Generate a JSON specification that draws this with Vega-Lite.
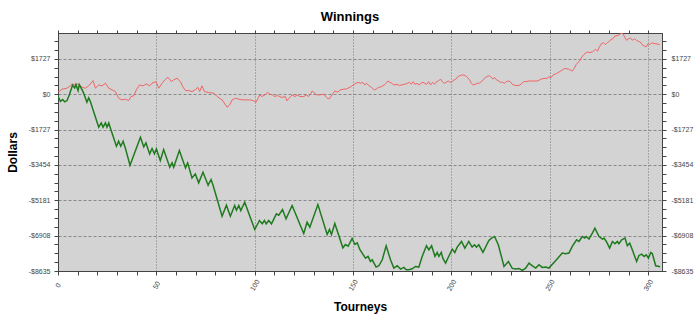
{
  "$schema": "https://vega.github.io/schema/vega-lite/v6.json",
  "width": 604,
  "height": 238,
  "autosize": {"type": "none"},
  "padding": {"left": 58, "top": 33, "right": 38, "bottom": 50},
  "background": "white",
  "title": {"text": "Winnings", "fontSize": 13, "font": "Liberation Sans", "fontWeight": "bold", "color": "black", "offset": 6, "dx": -10},
  "config": {
    "view": {"fill": "#d3d3d3", "stroke": "#444"},
    "axis": {"labelFont": "Liberation Sans", "labelFontSize": 7, "labelColor": "#444", "domainColor": "#444", "tickColor": "#444", "titleFont": "Liberation Sans", "titleFontSize": 12, "titleFontWeight": "bold", "titleColor": "black"}
  },
  "datasets": {
    "red": [
      {"t":0,"v":98},{"t":2.0,"v":244},{"t":4.5,"v":293},{"t":6.3,"v":407},{"t":7.1,"v":504},{"t":8.8,"v":456},{"t":10.5,"v":504},{"t":12.2,"v":342},{"t":13.9,"v":293},{"t":15.6,"v":407},{"t":17.8,"v":667},{"t":19.0,"v":293},{"t":20.7,"v":456},{"t":22.4,"v":407},{"t":24.1,"v":537},{"t":25.8,"v":293},{"t":27.5,"v":212},{"t":29.2,"v":130},{"t":30.8,"v":-195},{"t":32.5,"v":-276},{"t":34.2,"v":-244},{"t":35.9,"v":-309},{"t":37.1,"v":-114},{"t":38.5,"v":-81},{"t":39.8,"v":212},{"t":41.5,"v":456},{"t":43.2,"v":407},{"t":44.9,"v":504},{"t":46.6,"v":407},{"t":47.8,"v":537},{"t":49.8,"v":618},{"t":51.2,"v":293},{"t":52.9,"v":537},{"t":54.3,"v":700},{"t":55.9,"v":830},{"t":57.6,"v":618},{"t":58.8,"v":700},{"t":60.5,"v":781},{"t":62.2,"v":618},{"t":63.6,"v":342},{"t":64.8,"v":179},{"t":66.4,"v":179},{"t":68.1,"v":130},{"t":69.8,"v":212},{"t":71.0,"v":342},{"t":72.0,"v":130},{"t":73.2,"v":407},{"t":74.4,"v":130},{"t":76.6,"v":81},{"t":79.2,"v":49},{"t":80.9,"v":-114},{"t":83.4,"v":-276},{"t":85.9,"v":-634},{"t":87.3,"v":-520},{"t":88.5,"v":-276},{"t":90.2,"v":-195},{"t":91.9,"v":-244},{"t":93.6,"v":-276},{"t":96.2,"v":-276},{"t":97.8,"v":-276},
      {"t":99.3,"v":-323},{"t":100.7,"v":-387},{"t":101.7,"v":-194},{"t":102.6,"v":-32},{"t":103.6,"v":-113},{"t":105.2,"v":-32},{"t":106.6,"v":97},{"t":107.6,"v":0},{"t":109.0,"v":-32},{"t":110.1,"v":-113},{"t":111.5,"v":-65},{"t":112.5,"v":-113},{"t":113.9,"v":-161},{"t":115.5,"v":-113},{"t":116.4,"v":-323},{"t":117.4,"v":-194},{"t":119.0,"v":-32},{"t":120.4,"v":-113},{"t":121.8,"v":-32},{"t":122.9,"v":-113},{"t":124.9,"v":-113},{"t":126.3,"v":-32},{"t":127.3,"v":-113},{"t":128.3,"v":0},{"t":129.3,"v":161},{"t":130.3,"v":48},{"t":131.6,"v":-32},{"t":133.2,"v":-32},{"t":134.8,"v":0},{"t":136.2,"v":-113},{"t":137.2,"v":-226},{"t":138.2,"v":-194},{"t":139.5,"v":0},{"t":140.7,"v":161},{"t":142.1,"v":97},{"t":143.5,"v":210},{"t":145.0,"v":242},{"t":146.6,"v":258},{"t":148.0,"v":323},{"t":149.0,"v":371},{"t":150.0,"v":452},{"t":151.4,"v":533},{"t":152.5,"v":581},{"t":153.9,"v":533},{"t":154.9,"v":581},{"t":155.9,"v":452},{"t":156.9,"v":533},{"t":157.9,"v":420},{"t":158.9,"v":371},{"t":159.8,"v":291},{"t":160.8,"v":210},{"t":161.8,"v":258},{"t":162.8,"v":323},{"t":164.4,"v":371},{"t":165.8,"v":452},{"t":166.7,"v":533},{"t":167.7,"v":646},{"t":168.7,"v":581},{"t":169.7,"v":533},{"t":170.7,"v":452},{"t":172.3,"v":484},{"t":173.6,"v":420},{"t":174.6,"v":452},{"t":176.2,"v":484},{"t":177.6,"v":533},{"t":178.6,"v":581},{"t":179.6,"v":484},{"t":180.5,"v":613},{"t":181.5,"v":484},{"t":182.5,"v":533},{"t":183.5,"v":452},{"t":184.5,"v":533},{"t":185.5,"v":581},{"t":186.5,"v":533},{"t":187.4,"v":484},{"t":188.4,"v":613},{"t":189.4,"v":452},{"t":190.4,"v":581},{"t":191.4,"v":484},{"t":192.4,"v":613},{"t":193.4,"v":646},{"t":194.4,"v":742},{"t":195.3,"v":613},{"t":196.3,"v":533},{"t":197.3,"v":581},{"t":198.3,"v":646},{"t":199.3,"v":581},{"t":200.3,"v":613},{"t":201.3,"v":694},{"t":202.3,"v":742},{"t":203.2,"v":855},{"t":204.2,"v":904},{"t":205.2,"v":936},{"t":206.2,"v":936},{"t":207.2,"v":904},{"t":208.2,"v":807},{"t":209.2,"v":694},{"t":210.1,"v":533},{"t":211.1,"v":452},{"t":212.1,"v":484},{"t":213.1,"v":533},{"t":214.1,"v":533},{"t":215.1,"v":613},{"t":216.1,"v":694},{"t":217.0,"v":807},{"t":218.0,"v":855},{"t":219.0,"v":904},{"t":220.0,"v":855},{"t":221.0,"v":742},{"t":222.0,"v":807},{"t":223.0,"v":694},{"t":224.0,"v":646},{"t":225.0,"v":581},{"t":225.9,"v":581},{"t":226.9,"v":533},{"t":227.9,"v":613},{"t":228.9,"v":646},{"t":229.9,"v":613},{"t":230.9,"v":484},{"t":231.8,"v":452},{"t":232.8,"v":420},{"t":233.8,"v":420},{"t":234.8,"v":452},{"t":235.8,"v":533},{"t":236.8,"v":613},{"t":237.8,"v":613},{"t":239.7,"v":646},{"t":241.7,"v":646},{"t":243.7,"v":646},{"t":244.7,"v":694},{"t":245.6,"v":742},{"t":247.6,"v":775},{"t":248.6,"v":775},{"t":249.6,"v":855},{"t":250.6,"v":807},{"t":251.6,"v":936},{"t":253.5,"v":1017},{"t":255.5,"v":1130},{"t":257.5,"v":1259},{"t":259.4,"v":1227},{"t":260.4,"v":1178},{"t":261.4,"v":1130},{"t":262.4,"v":1259},{"t":263.4,"v":1453},{"t":265.4,"v":1662},{"t":266.3,"v":1824},{"t":267.3,"v":1937},{"t":268.9,"v":2066},{"t":270.3,"v":2034},{"t":271.7,"v":2066},{"t":273.3,"v":2195},{"t":274.2,"v":2098},{"t":275.2,"v":2308},{"t":276.2,"v":2469},{"t":277.2,"v":2518},{"t":278.2,"v":2421},{"t":279.2,"v":2518},{"t":280.2,"v":2582},{"t":281.1,"v":2679},{"t":282.1,"v":2712},{"t":283.1,"v":2841},{"t":284.7,"v":2873},{"t":286.1,"v":2970},{"t":287.1,"v":2970},{"t":288.0,"v":2792},{"t":289.0,"v":2631},{"t":290.0,"v":2712},{"t":291.0,"v":2744},{"t":292.0,"v":2631},{"t":293.0,"v":2712},{"t":294.0,"v":2631},{"t":295.0,"v":2582},{"t":296.0,"v":2550},{"t":296.9,"v":2421},{"t":297.9,"v":2356},{"t":298.9,"v":2308},{"t":299.9,"v":2469},{"t":300.9,"v":2421},{"t":301.9,"v":2518},{"t":302.9,"v":2469},{"t":303.9,"v":2469},{"t":305.8,"v":2421}
    ],
    "green": [
      {"t":0,"v":-100},{"t":1.2,"v":-344},{"t":2.4,"v":-263},{"t":3.4,"v":-376},{"t":4.6,"v":-311},{"t":5.8,"v":-19},{"t":7.4,"v":437},{"t":8.5,"v":307},{"t":9.1,"v":470},{"t":10.2,"v":177},{"t":10.8,"v":470},{"t":12.2,"v":226},{"t":13.0,"v":63},{"t":14.7,"v":-393},{"t":15.6,"v":-181},{"t":16.4,"v":-344},{"t":20.7,"v":-1613},{"t":22.0,"v":-1401},{"t":22.9,"v":-1613},{"t":24.1,"v":-1401},{"t":24.9,"v":-1613},{"t":25.8,"v":-1401},{"t":26.6,"v":-1646},{"t":29.7,"v":-2540},{"t":30.8,"v":-2296},{"t":31.9,"v":-2540},{"t":33.1,"v":-2296},{"t":34.2,"v":-2622},{"t":36.6,"v":-3468},{"t":41.9,"v":-2101},{"t":43.6,"v":-2573},{"t":44.7,"v":-2378},{"t":46.6,"v":-2915},{"t":47.8,"v":-2654},{"t":49.0,"v":-2915},{"t":50.0,"v":-2671},{"t":52.0,"v":-3240},{"t":53.7,"v":-2703},{"t":56.8,"v":-3565},{"t":58.0,"v":-3354},{"t":58.8,"v":-3565},{"t":61.7,"v":-2752},{"t":64.8,"v":-3598},{"t":65.9,"v":-3354},{"t":68.1,"v":-4086},{"t":69.8,"v":-3891},{"t":71.5,"v":-4330},{"t":73.7,"v":-3809},{"t":76.3,"v":-4444},{"t":77.8,"v":-4167},{"t":78.7,"v":-4411},{"t":83.4,"v":-5957},{"t":85.6,"v":-5420},{"t":87.6,"v":-5957},{"t":89.8,"v":-5436},{"t":90.7,"v":-5664},{"t":91.9,"v":-5436},{"t":92.9,"v":-5680},{"t":94.9,"v":-5274},{"t":100.0,"v":-6608},{"t":102.4,"v":-6169},{"t":103.8,"v":-6331},{"t":104.9,"v":-6169},{"t":105.8,"v":-6331},{"t":107.1,"v":-6169},{"t":108.5,"v":-6331},{"t":111.0,"v":-5843},{"t":112.2,"v":-5908},{"t":114.1,"v":-5632},{"t":115.9,"v":-6087},{"t":119.0,"v":-5436},{"t":124.9,"v":-6803},{"t":126.6,"v":-6250},{"t":128.0,"v":-6494},{"t":132.1,"v":-5388},{"t":136.8,"v":-6852},{"t":138.0,"v":-6608},{"t":139.0,"v":-6852},{"t":140.7,"v":-6315},{"t":144.8,"v":-7503},{"t":146.1,"v":-7340},{"t":147.5,"v":-7421},{"t":149.5,"v":-7047},{"t":150.9,"v":-7340},{"t":152.1,"v":-7259},{"t":153.4,"v":-7584},
      {"t":154.6,"v":-7761},{"t":156.3,"v":-8005},{"t":157.6,"v":-7924},{"t":158.8,"v":-8168},{"t":159.7,"v":-8087},{"t":161.7,"v":-8445},{"t":163.1,"v":-8380},{"t":164.8,"v":-8087},{"t":166.8,"v":-7403},{"t":169.0,"v":-8087},{"t":170.7,"v":-8493},{"t":172.4,"v":-8380},{"t":174.1,"v":-8542},{"t":175.8,"v":-8461},{"t":177.0,"v":-8575},{"t":178.3,"v":-8575},{"t":180.0,"v":-8526},{"t":181.7,"v":-8412},{"t":183.4,"v":-8445},{"t":185.1,"v":-7924},{"t":187.3,"v":-7403},{"t":188.5,"v":-7599},{"t":189.9,"v":-7403},{"t":191.6,"v":-7924},{"t":192.7,"v":-7729},{"t":193.6,"v":-7924},{"t":194.8,"v":-7729},{"t":195.6,"v":-8005},{"t":197.0,"v":-8249},{"t":199.0,"v":-7843},{"t":200.4,"v":-7566},{"t":201.7,"v":-7729},{"t":202.9,"v":-7468},{"t":205.1,"v":-7192},{"t":206.8,"v":-7517},{"t":208.8,"v":-7192},{"t":210.5,"v":-7468},{"t":211.7,"v":-7355},{"t":212.7,"v":-7468},{"t":213.9,"v":-7355},{"t":216.0,"v":-7729},{"t":219.0,"v":-7143},{"t":220.4,"v":-7029},{"t":221.9,"v":-6948},{"t":223.8,"v":-7355},{"t":226.7,"v":-8412},{"t":228.9,"v":-8168},{"t":230.9,"v":-8510},{"t":232.6,"v":-8542},{"t":234.3,"v":-8510},{"t":236.0,"v":-8607},{"t":237.7,"v":-8493},{"t":239.4,"v":-8249},{"t":241.1,"v":-8380},{"t":242.8,"v":-8493},{"t":244.5,"v":-8331},{"t":246.1,"v":-8461},{"t":247.8,"v":-8445},{"t":249.5,"v":-8493},{"t":252.9,"v":-8136},{"t":256.3,"v":-7761},{"t":258.0,"v":-7794},{"t":259.7,"v":-7761},{"t":261.4,"v":-7436},{"t":263.6,"v":-7111},{"t":264.8,"v":-7192},{"t":266.5,"v":-6948},{"t":267.7,"v":-7029},{"t":268.5,"v":-6948},{"t":269.9,"v":-7078},{"t":271.6,"v":-6785},{"t":272.9,"v":-6541},{"t":275.0,"v":-6948},{"t":276.7,"v":-7078},{"t":277.5,"v":-7029},{"t":278.7,"v":-7192},{"t":280.4,"v":-7517},{"t":281.8,"v":-7192},{"t":283.1,"v":-7306},{"t":284.3,"v":-7192},{"t":285.1,"v":-7306},{"t":286.5,"v":-7111},{"t":288.2,"v":-7029},{"t":289.4,"v":-7403},{"t":290.6,"v":-7273},{"t":291.9,"v":-7599},{"t":294.1,"v":-8168},{"t":295.3,"v":-7875},{"t":296.7,"v":-7810},{"t":297.9,"v":-7924},{"t":299.0,"v":-7843},{"t":300.1,"v":-8005},{"t":301.3,"v":-7729},{"t":302.1,"v":-7794},{"t":303.8,"v":-8380},{"t":305.5,"v":-8412},{"t":306.0,"v":-8445}
    ]
  },
  "layer": [
    {
      "data": {"name": "red"},
      "mark": {"type": "line", "color": "#f06565", "strokeWidth": 1, "clip": true},
      "encoding": {
        "x": {"field": "t", "type": "quantitative", "scale": {"domain": [0, 307], "nice": false, "zero": false},
          "axis": {"orient": "bottom", "title": "Tourneys", "values": [0,10,20,30,40,50,60,70,80,90,100,110,120,130,140,150,160,170,180,190,200,210,220,230,240,250,260,270,280,290,300],
            "labelExpr": "datum.value % 50 === 0 ? datum.label : ''", "labelAngle": -60, "labelAlign": "center", "labelBaseline": "middle", "labelPadding": 10, "labelFlush": false, "labelOverlap": false,
            "tickSize": 4, "grid": true, "gridColor": "#777", "gridDash": [1, 2], "gridOpacity": {"condition": {"test": "datum.value % 50 === 0", "value": 1}, "value": 0}, "titlePadding": 10}},
        "y": {"field": "v", "type": "quantitative", "scale": {"domain": [-8635, 2990], "nice": false, "zero": false},
          "axis": {"orient": "left", "title": "Dollars", "values": [-8635,-8203.25,-7771.5,-7339.75,-6908,-6476.25,-6044.5,-5612.75,-5181,-4749.25,-4317.5,-3885.75,-3454,-3022.25,-2590.5,-2158.75,-1727,-1295.25,-863.5,-431.75,0,431.75,863.5,1295.25,1727,2158.75,2590.5],
            "labelExpr": "abs(datum.value) % 1727 === 0 ? (datum.value < 0 ? '-$' + abs(datum.value) : '$' + abs(datum.value)) : ''", "labelPadding": 4, "labelFlush": false, "labelOverlap": false,
            "tickSize": 4, "grid": true, "gridColor": "#888", "gridDash": [3, 2], "gridOpacity": {"condition": {"test": "abs(datum.value) % 1727 === 0", "value": 1}, "value": 0}, "titlePadding": 9}}
      }
    },
    {
      "mark": {"type": "rule", "color": "#444", "strokeWidth": 1},
      "encoding": {"y": {"datum": 0, "type": "quantitative", "scale": {"domain": [-8635, 2990], "nice": false, "zero": false}, "axis": null}}
    },
    {
      "data": {"name": "green"},
      "mark": {"type": "line", "color": "#1e7b1e", "strokeWidth": 1.5, "clip": true},
      "encoding": {
        "x": {"field": "t", "type": "quantitative", "scale": {"domain": [0, 307], "nice": false, "zero": false},
          "axis": {"orient": "top", "title": null, "values": [0,10,20,30,40,50,60,70,80,90,100,110,120,130,140,150,160,170,180,190,200,210,220,230,240,250,260,270,280,290,300], "labels": false, "grid": false, "tickSize": 3}},
        "y": {"field": "v", "type": "quantitative", "scale": {"domain": [-8635, 2990], "nice": false, "zero": false},
          "axis": {"orient": "right", "title": null, "values": [-8635,-8203.25,-7771.5,-7339.75,-6908,-6476.25,-6044.5,-5612.75,-5181,-4749.25,-4317.5,-3885.75,-3454,-3022.25,-2590.5,-2158.75,-1727,-1295.25,-863.5,-431.75,0,431.75,863.5,1295.25,1727,2158.75,2590.5],
            "labelExpr": "abs(datum.value) % 1727 === 0 ? (datum.value < 0 ? '-$' + abs(datum.value) : '$' + abs(datum.value)) : ''", "labelPadding": 5, "labelFlush": false, "labelOverlap": false,
            "tickSize": 4, "grid": false}}
      }
    }
  ],
  "resolve": {"axis": {"x": "independent", "y": "independent"}}
}
